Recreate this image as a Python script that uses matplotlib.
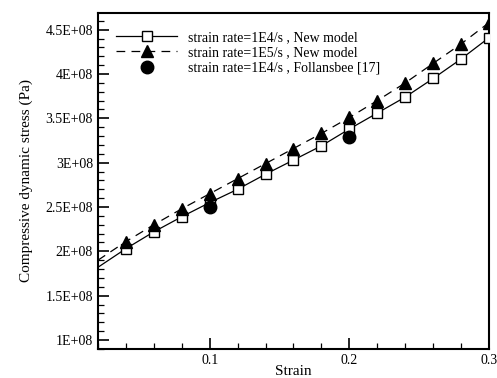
import numpy as np
import matplotlib.pyplot as plt
from matplotlib.ticker import MultipleLocator, FuncFormatter

# strain points of the model curves
strain = [0.02, 0.04, 0.06, 0.08, 0.10, 0.12, 0.14, 0.16, 0.18, 0.20,
          0.22, 0.24, 0.26, 0.28, 0.30]
stress_1e4 = [1.82e8, 2.03e8, 2.22e8, 2.39e8, 2.55e8, 2.70e8, 2.87e8, 3.03e8,
              3.19e8, 3.38e8, 3.56e8, 3.74e8, 3.95e8, 4.17e8, 4.41e8]
stress_1e5 = [1.90e8, 2.11e8, 2.30e8, 2.48e8, 2.65e8, 2.82e8, 2.99e8, 3.16e8,
              3.33e8, 3.51e8, 3.70e8, 3.90e8, 4.12e8, 4.34e8, 4.58e8]
# experiment
exp_strain = [0.10, 0.20]
exp_stress = [2.50e8, 3.29e8]

plt.rcParams['font.family'] = ['Liberation Serif', 'DejaVu Serif']

fig = plt.figure(figsize=(4.97, 3.78), dpi=100)
ax = fig.add_axes([0.197, 0.077, 0.787, 0.889])

ax.plot(strain, stress_1e4, 'k-', lw=0.9, zorder=2)
ax.plot(strain[1:], stress_1e4[1:], 's', ms=7.5, mfc='white', mec='k', mew=1.0, ls='none', zorder=3)
ax.plot(strain, stress_1e5, 'k--', lw=0.9, dashes=(7, 5), zorder=2)
ax.plot(strain[1:], stress_1e5[1:], '^', ms=8, color='k', ls='none', zorder=4)
ax.plot(exp_strain, exp_stress, 'o', ms=9, color='k', ls='none', zorder=5)

# legend handles
h1, = ax.plot([], [], 'k-', marker='s', ms=7.5, mfc='white', mec='k', lw=0.9)
h2, = ax.plot([], [], 'k--', marker='^', ms=8, lw=0.9, dashes=(7, 5))
h3, = ax.plot([], [], 'o', ms=9, color='k', ls='none')
ax.legend([h1, h2, h3],
          ['strain rate=1E4/s , New model', 'strain rate=1E5/s , New model',
           'strain rate=1E4/s , Follansbee [17]'],
          loc='upper left', bbox_to_anchor=(0.025, 0.97), frameon=False,
          fontsize=10, handlelength=4.4, handletextpad=0.75, labelspacing=0.15,
          borderaxespad=0.2)

ax.set_xlim(0.02, 0.3)
ax.set_ylim(0.9e8, 4.69e8)
ax.xaxis.set_major_locator(MultipleLocator(0.1))
ax.xaxis.set_minor_locator(MultipleLocator(0.02))
ax.yaxis.set_major_locator(MultipleLocator(0.5e8))
ax.yaxis.set_minor_locator(MultipleLocator(0.1e8))

def yfmt(v, pos):
    m = v / 1e8
    s = ('%.1f' % m).rstrip('0').rstrip('.')
    return s + 'E+08'

ax.yaxis.set_major_formatter(FuncFormatter(yfmt))
ax.xaxis.set_major_formatter(FuncFormatter(lambda v, p: ('%.1f' % v)))

ax.tick_params(which='both', direction='in', top=False, right=False, labelsize=10)
ax.tick_params(which='major', length=8, width=1.2)
ax.tick_params(which='minor', length=4, width=0.9)
for sp in ax.spines.values():
    sp.set_linewidth(1.5)

ax.set_xlabel('Strain', fontsize=11, labelpad=-1)
ax.set_ylabel('Compressive dynamic stress (Pa)', fontsize=11, labelpad=9)

fig.savefig('out.png', dpi=100)
